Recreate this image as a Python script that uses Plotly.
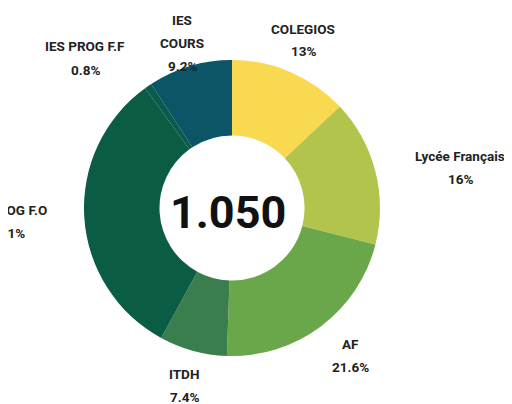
import plotly.graph_objects as go

# data
labels = ["COLEGIOS", "Lycée Français", "AF", "ITDH", "IES PROG F.O", "IES PROG F.F", "IES COURS"]
label_lines = [["COLEGIOS"], ["Lycée Français"], ["AF"], ["ITDH"], ["IES PROG F.O"], ["IES PROG F.F"], ["IES", "COURS"]]
values = [13, 16, 21.6, 7.4, 32.1, 0.8, 9.2]
pct_text = ["13%", "16%", "21.6%", "7.4%", "32.1%", "0.8%", "9.2%"]
total_text = "1.050"

colors = ["#F8D950", "#B3C44C", "#6AA74B", "#3B7E4D", "#0A5C45", "#0A5B4C", "#0B5567"]

W, H = 512, 404
OFF = 8  # page body margin


def px(x):
    return (x - OFF) / W


def py(y):
    return 1 - (y - OFF) / H


# label block centres, in window pixels, picked by eye
label_pos = [(303, 40), (460, 167), (350, 355), (184, 385), (6, 221), (85, 58), (182, 43)]
LINE = 23

fnt = "Roboto, sans-serif"

fig = go.Figure()
cx, cy, r = 232, 208, 148
fig.add_trace(go.Pie(
    labels=labels, values=values, sort=False, direction="clockwise", rotation=0,
    hole=0.49, marker=dict(colors=colors, line=dict(width=0)),
    textinfo="none", hoverinfo="label+percent",
    domain=dict(x=[px(cx - r), px(cx + r)], y=[py(cy + r), py(cy - r)]),
))

for lines, pct, (lx, ly) in zip(label_lines, pct_text, label_pos):
    all_lines = lines + [pct]
    n = len(all_lines)
    for i, t in enumerate(all_lines):
        yy = ly + (i - (n - 1) / 2) * LINE
        fig.add_annotation(text="<b>" + t + "</b>", x=px(lx), y=py(yy),
                           xref="paper", yref="paper", showarrow=False,
                           xanchor="center", yanchor="middle",
                           font=dict(family=fnt, size=13.5, color="#222222"))

fig.add_annotation(text="<b>" + total_text + "</b>", x=px(228), y=py(212), xref="paper", yref="paper",
                   showarrow=False, xanchor="center", yanchor="middle",
                   font=dict(family=fnt, size=45, color="#111111"))

fig.update_layout(width=W, height=H, margin=dict(l=0, r=0, t=0, b=0),
                  showlegend=False, paper_bgcolor="white", plot_bgcolor="white")
fig.write_html("out.html")
